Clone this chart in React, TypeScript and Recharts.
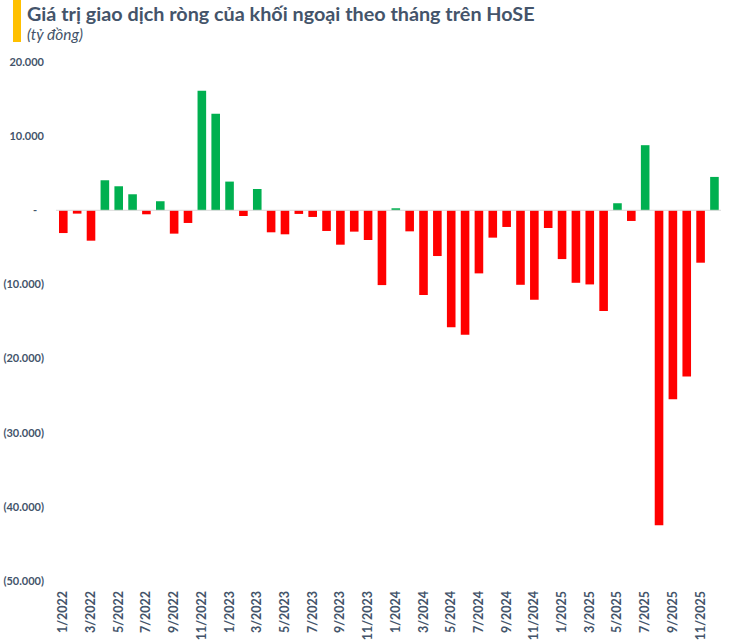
import { BarChart, Bar, Cell, XAxis, YAxis, ReferenceLine } from "recharts";

// months 1/2022 .. 12/2025
const months = [
  "1/2022", "2/2022", "3/2022", "4/2022", "5/2022", "6/2022", "7/2022", "8/2022", "9/2022", "10/2022", "11/2022", "12/2022",
  "1/2023", "2/2023", "3/2023", "4/2023", "5/2023", "6/2023", "7/2023", "8/2023", "9/2023", "10/2023", "11/2023", "12/2023",
  "1/2024", "2/2024", "3/2024", "4/2024", "5/2024", "6/2024", "7/2024", "8/2024", "9/2024", "10/2024", "11/2024", "12/2024",
  "1/2025", "2/2025", "3/2025", "4/2025", "5/2025", "6/2025", "7/2025", "8/2025", "9/2025", "10/2025", "11/2025", "12/2025",
];

// net foreign trading value, billion VND
const netValues = [
  -3070, -450, -4100, 4050, 3240, 2160, -540, 1220, -3150, -1710, 16120, 13020,
  3870, -770, 2880, -2970, -3240, -490, -900, -2790, -4640, -2880, -4010, -10090,
  270, -2840, -11440, -6170, -15770, -16800, -8510, -3690, -2250, -10050, -12070, -2390,
  -6580, -9780, -10000, -13600, 950, -1440, 8780, -42480, -25500, -22430, -7070, 4500,
];

const yTicks = [20000, 10000, 0, -10000, -20000, -30000, -40000, -50000];

const data = months.map((m, i) => ({ month: m, value: netValues[i] }));

const textColor = "#44546A";
const font = "Lato, 'Open Sans', sans-serif";

function fmt(v: number) {
  if (v === 0) return "-";
  const s = Math.abs(v).toString().replace(/\B(?=(\d{3})+(?!\d))/g, ".");
  return v < 0 ? `(${s})` : s;
}

function YTick(props: any) {
  const { y, payload } = props;
  const v = payload.value;
  return (
    <text
      x={v === 0 ? 37 : 44}
      y={y}
      dy="0.35em"
      textAnchor="end"
      fontSize={11}
      fontWeight={700}
      fontFamily={font}
      fill={textColor}
    >
      {fmt(v)}
    </text>
  );
}

function XTick(props: any) {
  const { x, payload } = props;
  return (
    <text
      transform={`translate(${x},591) rotate(-90)`}
      dy="0.35em"
      textAnchor="end"
      fontSize={12.5}
      fontWeight={700}
      fontFamily={font}
      fill={textColor}
    >
      {payload.value}
    </text>
  );
}

export default function App() {
  return (
    <div style={{ position: "relative", width: 733, height: 644, background: "#fff", fontFamily: font }}>
      <style>{"body{margin:0}"}</style>
      <div style={{ position: "absolute", left: 13, top: 0, width: 8, height: 42, background: "#FFC000" }} />
      <div
        style={{
          position: "absolute",
          left: 27,
          top: 0,
          fontSize: 19.8,
          fontWeight: 700,
          color: textColor,
          lineHeight: "26px",
          whiteSpace: "nowrap",
        }}
      >
        Giá trị giao dịch ròng của khối ngoại theo tháng trên HoSE
      </div>
      <div
        style={{
          position: "absolute",
          left: 27,
          top: 24,
          fontSize: 15.5,
          fontStyle: "italic",
          color: textColor,
          lineHeight: "20px",
        }}
      >
        (tỷ đồng)
      </div>
      <div style={{ position: "absolute", left: 0, top: 0 }}>
        <BarChart
          width={733}
          height={644}
          data={data}
          margin={{ top: 62, right: 12, left: 0, bottom: 0 }}
        >
          <XAxis
            dataKey="month"
            interval={1}
            axisLine={false}
            tickLine={false}
            height={63}
            tick={<XTick />}
          />
          <YAxis
            width={56}
            domain={[-50000, 20000]}
            ticks={yTicks}
            axisLine={false}
            tickLine={false}
            tick={<YTick />}
          />
          <ReferenceLine y={0} stroke="#D9D9D9" strokeWidth={1} />
          <Bar dataKey="value" barSize={8.6} isAnimationActive={false}>
            {data.map((d, i) => (
              <Cell key={`c-${i}`} fill={d.value >= 0 ? "#00B050" : "#FF0000"} />
            ))}
          </Bar>
        </BarChart>
      </div>
    </div>
  );
}
